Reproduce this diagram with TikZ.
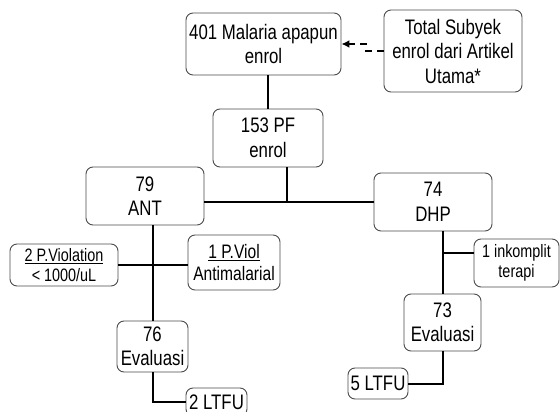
\documentclass[tikz,border=0pt]{standalone}
\usepackage{fontspec}
\setmainfont[FakeStretch=0.8]{Liberation Sans}
\usetikzlibrary{positioning, arrows.meta, calc}

\begin{document}
\begin{tikzpicture}[
  x=1pt, y=-1pt,
  every node/.style={align=center},
  box/.style={
    rectangle, rounded corners=7pt, draw=black!70, line width=0.9pt,
    fill=white, inner sep=0pt, font=\fontsize{21}{24.5}\selectfont
  },
  smallbox/.style={box, font=\fontsize{18}{20}\selectfont},
  link/.style={line width=2pt, draw=black},
  dasharr/.style={-{Latex[length=8pt, width=8pt]}, line width=2pt,
    dash pattern=on 7pt off 5pt}
]
\clip (0,0) rectangle (560,412);
\fill[white] (0,0) rectangle (560,412);

% ================ Atas: enrol ================
\node[box, minimum width=155pt, minimum height=62pt] (mal) at (263.5,44)
  {401 Malaria apapun\\enrol};
\node[box, minimum width=138pt, minimum height=82pt] (tot) at (453,51)
  {Total Subyek\\enrol dari Artikel\\Utama*};
\node[box, minimum width=110pt, minimum height=58pt] (pf) at (268,138)
  {153 PF\\enrol};

% ================ Lengan ANT ================
\node[box, minimum width=118pt, minimum height=58pt] (ant) at (145,196)
  {79\\ANT};
\node[smallbox, minimum width=108pt, minimum height=42pt] (pvio) at (64,265)
  {\underline{2 P.Violation}\\< 1000/uL};
\node[box, minimum width=92pt, minimum height=55pt,
      font=\fontsize{19.5}{22}\selectfont] (pviol) at (234,262.5)
  {\underline{1 P.Viol}\\Antimalarial};
\node[box, minimum width=71pt, minimum height=51pt] (evAnt) at (152.5,346.5)
  {76\\Evaluasi};
\node[box, minimum width=61pt, minimum height=28pt] (ltfuAnt) at (216.5,402)
  {2 LTFU};

% ================ Lengan DHP ================
\node[box, minimum width=118pt, minimum height=58pt] (dhp) at (433,202)
  {74\\DHP};
\node[smallbox, minimum width=85pt, minimum height=48pt] (ink) at (516.5,263)
  {1 inkomplit\\terapi};
\node[box, minimum width=77pt, minimum height=57pt] (evDhp) at (442.5,322.5)
  {73\\Evaluasi};
\node[box, minimum width=60pt, minimum height=31pt] (ltfuDhp) at (378,383.5)
  {5 LTFU};

% ================ Garis penghubung ================
\coordinate (split) at (287,202);
\draw[dasharr] (tot.west) -- ++(-18,0) |- (mal.east);
\draw[link] (pf.north |- mal.south) -- (pf.north);
\draw[link] (split |- pf.south) -- (split);
\draw[link] (ant.east |- split) -- (dhp.west |- split);

\draw[link] (evAnt.north |- ant.south) -- (evAnt.north);
\draw[link] (pvio.east) -- (pviol.west |- pvio.east);
\draw[link] (evAnt.south) |- (ltfuAnt.west);

\draw[link] (evDhp.north |- dhp.south) -- (evDhp.north);
\draw[link] ([yshift=10pt]ink.west) -- ([yshift=10pt]ink.west -| evDhp.north);
\draw[link] (evDhp.south) |- (ltfuDhp.east);
\end{tikzpicture}
\end{document}
